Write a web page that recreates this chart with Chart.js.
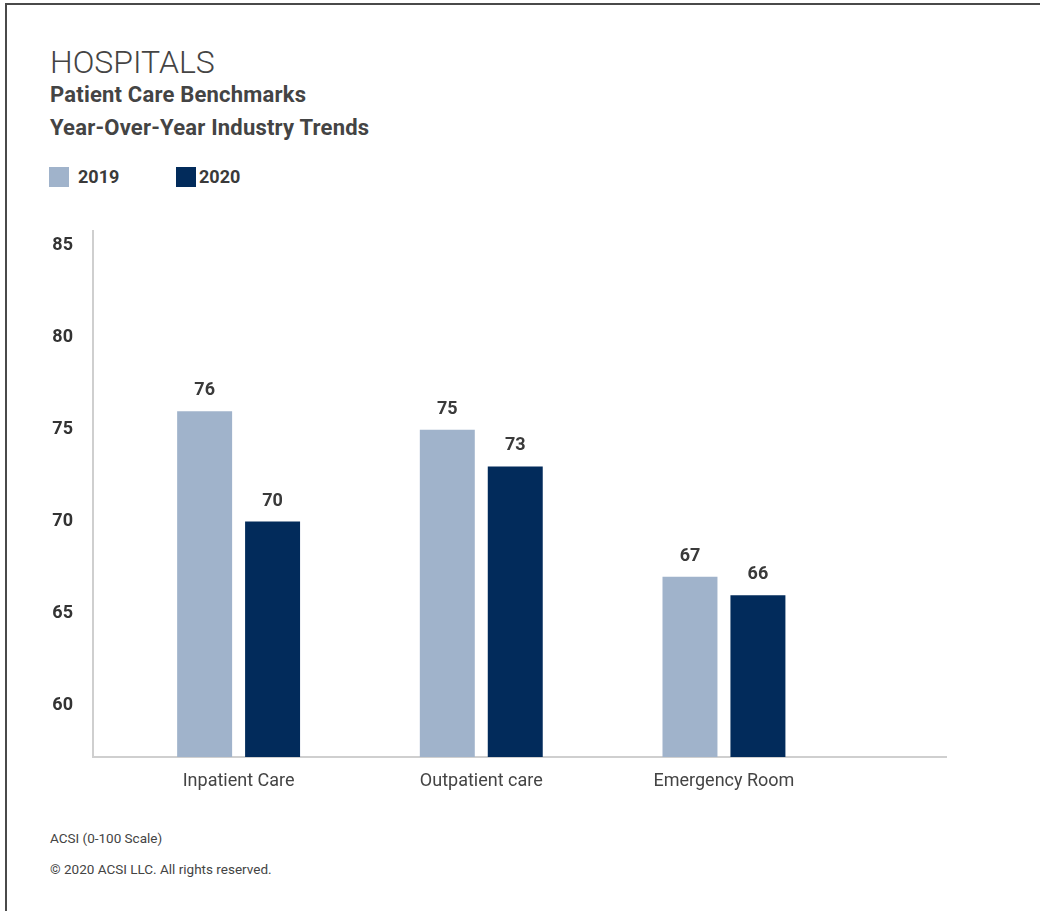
<!DOCTYPE html>
<html>
<head>
<meta charset="utf-8">
<title>Hospitals – Patient Care Benchmarks</title>
<script src="https://cdn.jsdelivr.net/npm/chart.js@4"></script>
<style>
  html, body { margin: 0; padding: 0; background: #fff; }
  body {
    width: 1040px; height: 911px; position: relative; overflow: hidden;
    font-family: Roboto, "Liberation Sans", sans-serif; color: #444;
  }
  .frame {
    position: absolute; left: 5px; top: 3px; right: -10px; bottom: -10px;
    border-top: 2px solid #4a4a4a; border-left: 2px solid #4a4a4a;
  }
  .txt { position: absolute; left: 50px; white-space: nowrap; }
  #title { top: 46px; font-size: 32px; line-height: 32px; font-weight: 300; color: #444; }
  #sub { top: 78px; font-size: 22px; line-height: 33px; font-weight: 700; color: #444; letter-spacing: 0.2px; }
  .swatch { position: absolute; top: 167px; width: 20px; height: 20px; }
  .lgtext { position: absolute; top: 168px; font-size: 18px; line-height: 18px; font-weight: 700; color: #3a3a3a; }
  .note { font-size: 13.5px; line-height: 13px; color: #444; }
  #note1 { top: 832px; }
  #note2 { top: 863px; }
  #wrap { position: absolute; left: 0; top: 200px; width: 1040px; height: 620px; }
</style>
</head>
<body>
<div class="frame"></div>
<div class="txt" id="title">HOSPITALS</div>
<div class="txt" id="sub">Patient Care Benchmarks<br>Year-Over-Year Industry Trends</div>
<div id="legend"></div>
<div id="wrap"><canvas id="chart"></canvas></div>
<div class="txt note" id="note1">ACSI (0-100 Scale)</div>
<div class="txt note" id="note2">© 2020 ACSI LLC. All rights reserved.</div>

<script>
// Categories and yearly scores
const categories = ['Inpatient Care', 'Outpatient care', 'Emergency Room'];
const seriesNames = ['2019', '2020'];
const values2019 = [76, 75, 67];
const values2020 = [70, 73, 66];
const yTickValues = [60, 65, 70, 75, 80, 85];

const seriesColors = ['#A0B3CB', '#022B5B'];
const seriesValues = [values2019, values2020];

// Legend (swatch + year), laid out left to right
const legendEl = document.getElementById('legend');
const legendSwatchX = [49, 176];
const legendTextX = [78, 199];
seriesNames.forEach((name, i) => {
  const sw = document.createElement('div');
  sw.className = 'swatch';
  sw.style.left = legendSwatchX[i] + 'px';
  sw.style.background = seriesColors[i];
  legendEl.appendChild(sw);
  const tx = document.createElement('div');
  tx.className = 'lgtext';
  tx.style.left = legendTextX[i] + 'px';
  tx.textContent = name;
  legendEl.appendChild(tx);
});

// Value labels above each bar
const valueLabels = {
  id: 'valueLabels',
  afterDatasetsDraw(chart) {
    const ctx = chart.ctx;
    ctx.save();
    ctx.font = '700 18px Roboto, "Liberation Sans", sans-serif';
    ctx.fillStyle = '#3a3a3a';
    ctx.textAlign = 'center';
    ctx.textBaseline = 'alphabetic';
    chart.data.datasets.forEach((ds, i) => {
      chart.getDatasetMeta(i).data.forEach((bar, j) => {
        ctx.fillText(String(ds.data[j].y), bar.x, bar.y - 16);
      });
    });
    ctx.restore();
  }
};

const datasets = seriesNames.map((name, i) => ({
  label: name,
  data: seriesValues[i].map((v, j) => ({ x: j, y: v })),
  backgroundColor: seriesColors[i],
  borderWidth: 0,
  categoryPercentage: 0.56,
  barPercentage: 0.809
}));

new Chart(document.getElementById('chart'), {
  type: 'bar',
  data: { datasets },
  plugins: [valueLabels],
  options: {
    responsive: true,
    maintainAspectRatio: false,
    animation: false,
    layout: { padding: { top: 31, right: 94, bottom: 3, left: 0 } },
    plugins: {
      legend: { display: false },
      tooltip: { enabled: false }
    },
    scales: {
      x: {
        type: 'linear',
        min: -0.6,
        max: 2.915,
        offset: false,
        grid: { display: false, drawTicks: false },
        border: { display: true, color: '#cfcfcf', width: 2 },
        afterBuildTicks: s => { s.ticks = categories.map((_, i) => ({ value: i })); },
        afterFit: s => { s.height = 60; },
        ticks: {
          autoSkip: false,
          maxRotation: 0,
          padding: 14,
          color: '#444',
          font: { family: 'Roboto, "Liberation Sans", sans-serif', size: 18 },
          callback: v => categories[v]
        }
      },
      y: {
        min: 57.2,
        max: 85.8,
        grid: { display: false, drawTicks: false },
        border: { display: true, color: '#cfcfcf', width: 2 },
        afterBuildTicks: s => { s.ticks = yTickValues.map(v => ({ value: v })); },
        afterFit: s => { s.width = 93; },
        ticks: {
          padding: 20,
          color: '#333',
          font: { family: 'Roboto, "Liberation Sans", sans-serif', size: 18, weight: '700' }
        }
      }
    }
  }
});
</script>
</body>
</html>
